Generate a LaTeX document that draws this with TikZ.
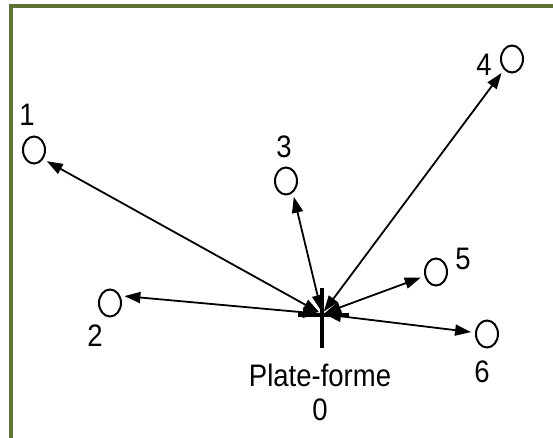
\documentclass[tikz,border=0pt]{standalone}
\usepackage{fontspec}
\setmainfont{Liberation Sans}
\usetikzlibrary{arrows.meta,shapes.geometric}
\definecolor{frame}{RGB}{94,115,52}
\newcommand\talltext[1]{\scalebox{1}[1.13]{#1}}
\tikzset{
  station/.style={draw=black, line width=2pt, ellipse, minimum width=22pt, minimum height=27pt, inner sep=0pt},
  lbl/.style={font=\fontsize{27.5}{32}\selectfont, inner sep=0pt},
  link/.style={{Triangle[length=16pt,width=11pt]}-{Triangle[length=16pt,width=11pt]}, line width=1.8pt, shorten >=4pt, shorten <=3pt},
  bar/.style={line width=4pt}
}
\begin{document}
\begin{tikzpicture}[x=1pt,y=-1pt]
\useasboundingbox (0,0) rectangle (553,438);
\fill[white] (0,0) rectangle (553,438);
% frame (top and left sides only visible)
\draw[frame, line width=4pt] (553,6) -- (11,6) -- (11,438);
% stations
\node[station] (n1) at (34,150) {};
\node[station] (n2) at (110,303) {};
\node[station] (n3) at (286,181) {};
\node[station] (n4) at (512,59) {};
\node[station] (n5) at (436,272) {};
\node[station] (n6) at (487,334) {};
% labels
\node[lbl] (l1) at (27,115) {\talltext{1}};
\node[lbl] (l2) at (95,336) {\talltext{2}};
\node[lbl] (l3) at (284,147) {\talltext{3}};
\node[lbl] (l4) at (484,65) {\talltext{4}};
\node[lbl] (l5) at (463,259) {\talltext{5}};
\node[lbl] (l6) at (482,372) {\talltext{6}};
% platform
\coordinate (o) at (322,314);
\coordinate (vt) at (322,288);
\coordinate (vb) at (322,348);
\coordinate (hl) at (298,315);
\coordinate (hr) at (349,315);
\draw[bar] (vt) -- (vb);
\draw[bar] (hl) -- (hr);
\node[lbl] (pf) at (320,375) {\talltext{Plate-forme}};
\node[lbl] (p0) at (320,410) {\talltext{0}};
% links
\draw[link] (o) -- (n1.-45);
\draw[link] (o) -- (n2.35);
\draw[link] (o) -- (n3.-60);
\draw[link] (o) -- (n4);
\draw[link] (o) -- (n5);
\draw[link] (o) -- (n6);
\end{tikzpicture}
\end{document}
